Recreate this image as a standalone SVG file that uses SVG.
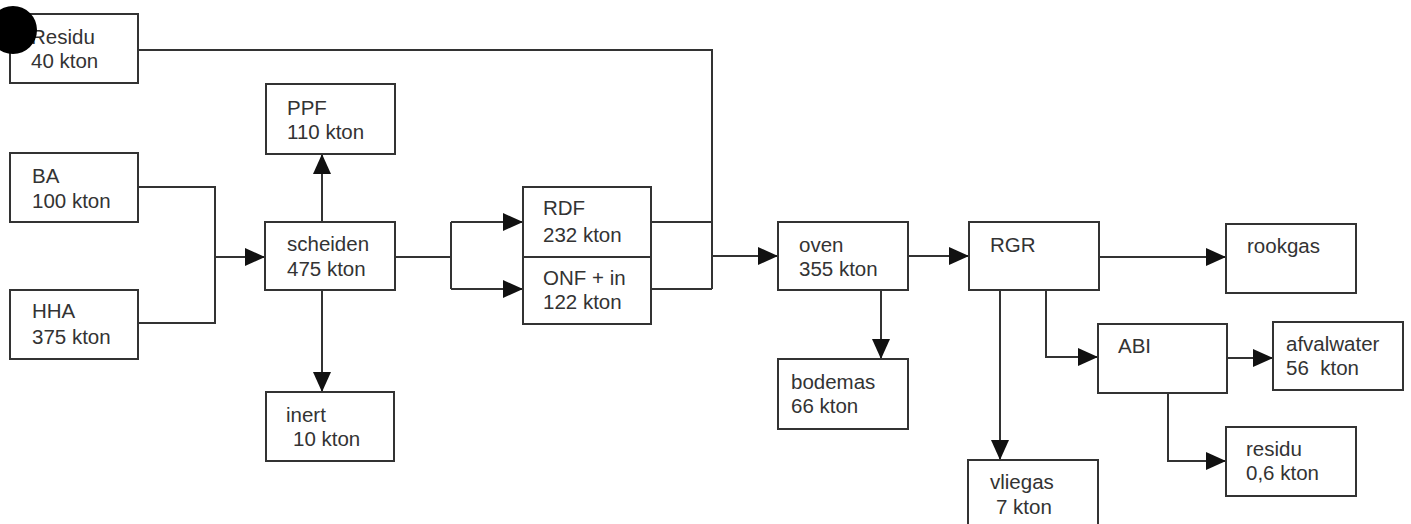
<svg xmlns="http://www.w3.org/2000/svg" width="1411" height="524" viewBox="0 0 1411 524">
<style>
.box{fill:#fff;stroke:#333;stroke-width:2}
.t{font-family:"Liberation Sans",Arial,sans-serif;font-size:20.5px;fill:#333;white-space:pre}
.c{fill:none;stroke:#333;stroke-width:2}
</style>
<defs>
<marker id="ah" markerUnits="userSpaceOnUse" markerWidth="20" markerHeight="18" refX="20" refY="9" orient="auto">
<path d="M0,0 L20,9 L0,18 z" fill="#111"/>
</marker>
</defs>
<rect width="1411" height="524" fill="#fff"/>
<g id="connectors">
<path class="c" d="M138,50 H712 V289"/>
<path class="c" d="M651,222 H712"/>
<path class="c" d="M651,289 H712"/>
<path class="c" d="M712,256 H778" marker-end="url(#ah)"/>
<path class="c" d="M138,187 H215 V323 H138"/>
<path class="c" d="M215,257 H265" marker-end="url(#ah)"/>
<path class="c" d="M322,222 V154" marker-end="url(#ah)"/>
<path class="c" d="M322,290 V392" marker-end="url(#ah)"/>
<path class="c" d="M395,257 H451"/>
<path class="c" d="M451,222 V289"/>
<path class="c" d="M451,222 H523" marker-end="url(#ah)"/>
<path class="c" d="M451,289 H523" marker-end="url(#ah)"/>
<path class="c" d="M908,256 H969" marker-end="url(#ah)"/>
<path class="c" d="M881,290 V359" marker-end="url(#ah)"/>
<path class="c" d="M1099,257 H1226" marker-end="url(#ah)"/>
<path class="c" d="M1000,290 V460" marker-end="url(#ah)"/>
<path class="c" d="M1046,290 V357 H1098" marker-end="url(#ah)"/>
<path class="c" d="M1227,358 H1273" marker-end="url(#ah)"/>
<path class="c" d="M1168,393 V461 H1226" marker-end="url(#ah)"/>
</g>
<g id="residu-top"><rect class="box" x="10" y="14" width="128" height="69"/><text class="t" x="31" y="44">Residu</text><text class="t" x="31" y="68">40 kton</text></g>
<g id="ba"><rect class="box" x="10" y="153" width="128" height="69"/><text class="t" x="32" y="183">BA</text><text class="t" x="32" y="208">100 kton</text></g>
<g id="hha"><rect class="box" x="10" y="290" width="128" height="69"/><text class="t" x="32" y="318">HHA</text><text class="t" x="32" y="344">375 kton</text></g>
<g id="ppf"><rect class="box" x="266" y="84" width="129" height="70"/><text class="t" x="287" y="115">PPF</text><text class="t" x="287" y="139">110 kton</text></g>
<g id="scheiden"><rect class="box" x="265" y="222" width="130" height="68"/><text class="t" x="287" y="251">scheiden</text><text class="t" x="287" y="276">475 kton</text></g>
<g id="inert"><rect class="box" x="266" y="392" width="128" height="69"/><text class="t" x="286" y="422">inert</text><text class="t" x="293" y="446">10 kton</text></g>
<g id="rdf"><rect class="box" x="523" y="187" width="128" height="70"/><text class="t" x="543" y="215">RDF</text><text class="t" x="543" y="242">232 kton</text></g>
<g id="onf"><rect class="box" x="523" y="257" width="128" height="67"/><text class="t" x="543" y="285">ONF + in</text><text class="t" x="543" y="309">122 kton</text></g>
<g id="oven"><rect class="box" x="778" y="222" width="130" height="68"/><text class="t" x="799" y="252">oven</text><text class="t" x="799" y="276">355 kton</text></g>
<g id="bodemas"><rect class="box" x="778" y="359" width="130" height="70"/><text class="t" x="791" y="389">bodemas</text><text class="t" x="791" y="413">66 kton</text></g>
<g id="rgr"><rect class="box" x="969" y="222" width="130" height="68"/><text class="t" x="990" y="252">RGR</text></g>
<g id="vliegas"><rect class="box" x="968" y="460" width="130" height="70"/><text class="t" x="990" y="489">vliegas</text><text class="t" x="996" y="514">7 kton</text></g>
<g id="rookgas"><rect class="box" x="1226" y="224" width="130" height="69"/><text class="t" x="1247" y="253">rookgas</text></g>
<g id="abi"><rect class="box" x="1098" y="324" width="129" height="69"/><text class="t" x="1118" y="353">ABI</text></g>
<g id="afvalwater"><rect class="box" x="1273" y="322" width="130" height="68"/><text class="t" x="1286" y="351">afvalwater</text><text class="t" x="1286" y="375" xml:space="preserve">56  kton</text></g>
<g id="residu"><rect class="box" x="1226" y="427" width="130" height="69"/><text class="t" x="1246" y="456">residu</text><text class="t" x="1246" y="480">0,6 kton</text></g>
<circle cx="13" cy="30" r="24" fill="#000"/>
</svg>
